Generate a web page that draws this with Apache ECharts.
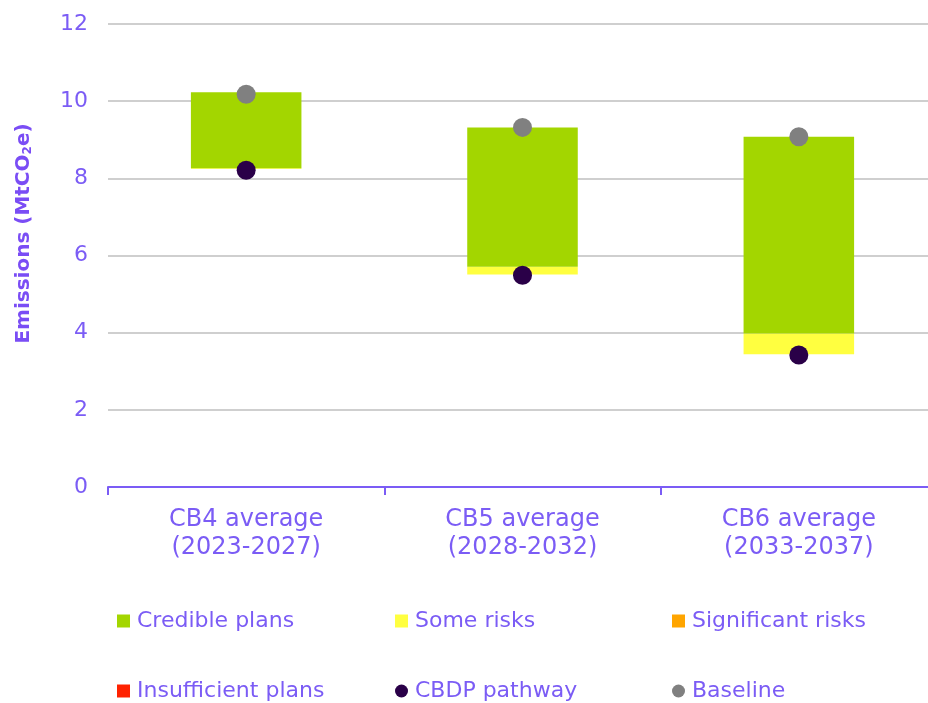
<!DOCTYPE html>
<html>
<head>
<meta charset="utf-8">
<script src="https://cdn.jsdelivr.net/npm/echarts@6/dist/echarts.min.js"></script>
<style>html,body{margin:0;padding:0;background:#fff;}#c{width:928px;height:703px;}</style>
</head>
<body>
<div id="c"></div>
<script>
var categories = ['CB4 average\n(2023-2027)', 'CB5 average\n(2028-2032)', 'CB6 average\n(2033-2037)'];
// bottom of the floating stack (invisible)
var baseValues = [8.24, 5.51, 3.44];
var someRisks = [0.02, 0.20, 0.54];
var crediblePlans = [1.97, 3.61, 5.10];
var significantRisks = [0, 0, 0];
var insufficientPlans = [0, 0, 0];
var cbdpPathway = [8.21, 5.49, 3.42];
var baseline = [10.18, 9.32, 9.08];
var yTicks = [0, 2, 4, 6, 8, 10, 12];

var txt = '#7B5CF5';
var font = 'DejaVu Sans';
var chart = echarts.init(document.getElementById('c'));
function lg(name, icon, left, top) {
  return {
    data: [{name: name, icon: icon}], left: left, top: top,
    itemWidth: 13, itemHeight: 13, itemGap: 0,
    textStyle: {color: txt, fontSize: 22, fontFamily: font, padding: [0, 0, 0, 2]},
    selectedMode: false
  };
}
chart.setOption({
  animation: false,
  backgroundColor: '#fff',
  grid: {left: 108, width: 829, top: 24, bottom: 216, containLabel: false, outerBoundsMode: 'none'},
  legend: [
    lg('Credible plans', 'rect', 112, 605),
    lg('Some risks', 'rect', 390, 605),
    lg('Significant risks', 'rect', 667, 605),
    lg('Insufficient plans', 'rect', 112, 675),
    lg('CBDP pathway', 'circle', 390, 675),
    lg('Baseline', 'circle', 667, 675)
  ],
  xAxis: {
    type: 'category', data: categories,
    axisLine: {lineStyle: {color: '#7B5CF5', width: 2}},
    axisTick: {show: true, length: 8, lineStyle: {color: '#7B5CF5', width: 2}},
    axisLabel: {color: txt, fontSize: 24, fontFamily: font, lineHeight: 28, margin: 19}
  },
  yAxis: {
    type: 'value', min: yTicks[0], max: yTicks[yTicks.length - 1], interval: 2,
    name: 'Emissions (MtCO{s|2}e)', nameLocation: 'middle', nameGap: 74,
    nameTextStyle: {color: '#7A4DF5', fontSize: 20, fontWeight: 'bold', fontFamily: font, padding: [0, 0, 0, 44],
      rich: {s: {fontSize: 12, fontWeight: 'bold', color: '#7A4DF5', fontFamily: font, verticalAlign: 'bottom', padding: [9, 0, 0, 0]}}},
    axisLine: {show: false}, axisTick: {show: false},
    axisLabel: {color: txt, fontSize: 22, fontFamily: font, margin: 20},
    splitLine: {lineStyle: {color: '#CFCFCF', width: 2}}
  },
  series: [
    {name: 'base', type: 'bar', stack: 's', data: baseValues, barWidth: '40%',
      itemStyle: {color: 'transparent'}, silent: true},
    {name: 'Some risks', type: 'bar', stack: 's', data: someRisks, itemStyle: {color: '#FFFF40'}},
    {name: 'Credible plans', type: 'bar', stack: 's', data: crediblePlans, itemStyle: {color: '#A3D600'}},
    {name: 'Significant risks', type: 'bar', stack: 's', data: significantRisks, itemStyle: {color: '#FFA500'}},
    {name: 'Insufficient plans', type: 'bar', stack: 's', data: insufficientPlans, itemStyle: {color: '#FF2200'}},
    {name: 'CBDP pathway', type: 'scatter', data: cbdpPathway, symbolSize: 19, z: 5,
      itemStyle: {color: '#2A0048', opacity: 1}},
    {name: 'Baseline', type: 'scatter', data: baseline, symbolSize: 19, z: 5,
      itemStyle: {color: '#808080', opacity: 1}}
  ]
});
</script>
</body>
</html>
